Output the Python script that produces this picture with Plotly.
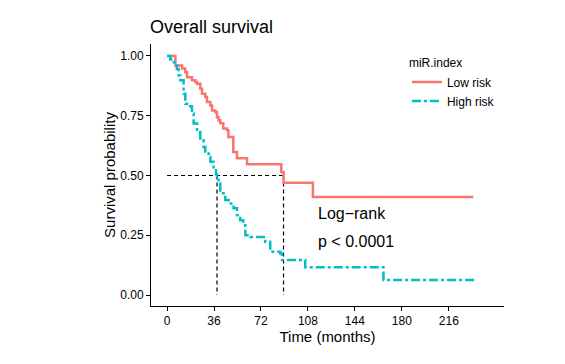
import plotly.graph_objects as go

# Kaplan-Meier curves (months, survival probability)
low_time = [0, 6.4, 11.5, 14, 15.3, 19.1, 21.7, 23, 25.5, 26.8, 29.3, 30.6, 33.2, 34.5,
            37, 38.3, 39.5, 40.8, 43.1, 46, 47, 50.8, 53.6, 61.3, 87.6, 89.3, 111.8, 234.8]
low_surv = [1.0, 0.96, 0.947, 0.932, 0.911, 0.898, 0.891, 0.884, 0.863, 0.842, 0.828, 0.807,
            0.793, 0.772, 0.765, 0.744, 0.731, 0.718, 0.697, 0.689, 0.661, 0.598, 0.572,
            0.547, 0.515, 0.47, 0.41, 0.41]

high_time = [0, 2.5, 5.1, 7.5, 8.9, 10.2, 12.7, 14, 16.3, 19.1, 20.4, 23, 25.5, 28, 29.3,
             31.9, 33.2, 35.7, 37.5, 38.3, 39.5, 40.8, 44.6, 47.2, 51, 53.6, 56.1, 58.4, 60,
             63.8, 75.3, 79.1, 86.8, 88.2, 105.9, 165.9, 237.4]
high_surv = [1.0, 0.985, 0.974, 0.945, 0.918, 0.898, 0.842, 0.80, 0.79, 0.759, 0.717, 0.682,
             0.647, 0.619, 0.60, 0.577, 0.557, 0.522, 0.505, 0.494, 0.466, 0.426, 0.397,
             0.383, 0.363, 0.334, 0.313, 0.292, 0.25, 0.243, 0.223, 0.181, 0.174, 0.146,
             0.116, 0.063, 0.063]

medians = [38.3, 89.3]
x_ticks = [0, 36, 72, 108, 144, 180, 216]
y_ticks = [0, 0.25, 0.5, 0.75, 1.0]

font = "Liberation Sans, Arial, sans-serif"

fig = go.Figure()

# median reference lines
fig.add_trace(go.Scatter(x=[0, max(medians)], y=[0.5, 0.5], mode="lines",
                         line=dict(color="black", width=1.2, dash="4px,3px"),
                         showlegend=False, hoverinfo="skip"))
for m in medians:
    fig.add_trace(go.Scatter(x=[m, m], y=[0.5, 0], mode="lines",
                             line=dict(color="black", width=1.2, dash="4px,3px"),
                             showlegend=False, hoverinfo="skip"))

fig.add_trace(go.Scatter(x=low_time, y=low_surv, mode="lines", name="Low risk",
                         line=dict(color="#F8766D", width=2.5, shape="hv")))
fig.add_trace(go.Scatter(x=high_time, y=high_surv, mode="lines", name="High risk",
                         line=dict(color="#00BFC4", width=2.5, shape="hv", dash="dashdot")))

fig.add_annotation(x=114.5, y=0.342, text="Log\u2212rank", showarrow=False,
                   xanchor="left", font=dict(size=16, color="black"))
fig.add_annotation(x=114.5, y=0.222, text="p < 0.0001", showarrow=False,
                   xanchor="left", font=dict(size=16, color="black"))

axis_style = dict(showgrid=False, zeroline=False, showline=True, linecolor="black",
                  linewidth=1, ticks="outside", ticklen=4, tickcolor="black",
                  tickfont=dict(size=12, color="black"))

fig.update_xaxes(range=[-12.3, 258.3], tickvals=x_ticks,
                 title=dict(text="Time (months)", font=dict(size=15, color="black"), standoff=0),
                 **axis_style)
fig.update_yaxes(range=[-0.046, 1.05], tickvals=y_ticks, tickformat=".2f",
                 title=dict(text="Survival probability", font=dict(size=15, color="black"), standoff=0),
                 **axis_style)

# the page body adds 8px at left/top, so margins are shifted to compensate
fig.update_layout(
    width=565, height=364,
    margin=dict(l=143, r=69, t=36, b=66, autoexpand=False),
    plot_bgcolor="white", paper_bgcolor="white",
    font=dict(family=font, color="black"),
    title=dict(text="Overall survival", x=142 / 565, xanchor="left", y=1 - 19 / 364,
               yanchor="middle", font=dict(size=18, color="black")),
    legend=dict(title=dict(text="miR.index", font=dict(size=12)), font=dict(size=12),
                x=0.725, y=0.97, xanchor="left", yanchor="top", bgcolor="rgba(0,0,0,0)"),
)

fig.write_html("out.html")
